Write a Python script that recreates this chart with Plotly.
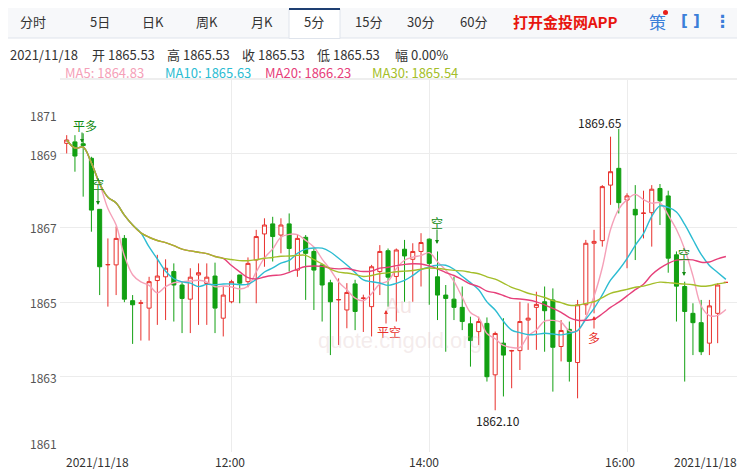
import plotly.graph_objects as go
import pandas as pd

W, H = 745, 472
OFF = 8  # page body margin
opens = [1869.26,1869.30,1869.25,1868.86,1867.49,1866.00,1866.00,1866.71,1865.04,1864.97,
         1864.84,1865.58,1865.68,1865.82,1865.46,1865.08,1865.73,1865.50,1865.70,1864.57,
         1865.01,1865.73,1865.55,1866.13,1866.83,1867.10,1866.80,1867.10,1865.86,1866.74,
         1866.36,1866.00,1865.52,1865.06,1864.79,1865.49,1865.10,1864.88,1865.82,1866.38,
         1865.69,1866.42,1866.15,1866.36,1866.69,1865.68,1865.19,1865.08,1864.86,1864.42,
         1864.21,1864.43,1863.05,1863.90,1863.69,1863.70,1864.52,1864.86,1865.01,1865.06,
         1863.81,1864.27,1863.38,1864.93,1866.58,1866.65,1868.14,1868.59,1867.74,1867.49,
         1867.38,1867.40,1868.05,1867.85,1866.27,1865.42,1864.70,1864.45,1863.90,1864.70,1865.53]
highs = [1869.48,1869.48,1869.53,1868.90,1867.49,1866.71,1867.03,1866.80,1865.19,1865.06,
         1865.68,1866.27,1866.15,1866.04,1865.55,1865.91,1866.04,1866.04,1866.06,1865.42,
         1865.60,1865.73,1866.20,1866.94,1867.25,1867.29,1867.25,1867.38,1866.80,1866.80,
         1866.44,1866.00,1865.60,1865.64,1865.51,1865.60,1865.20,1866.00,1866.53,1866.44,
         1866.44,1866.67,1866.58,1866.85,1866.71,1866.36,1865.46,1865.68,1865.42,1864.61,
         1864.61,1864.59,1864.21,1864.57,1863.72,1865.01,1864.97,1865.28,1865.42,1865.37,
         1864.52,1864.48,1865.06,1866.67,1866.94,1868.14,1869.44,1869.65,1867.92,1868.14,
         1867.99,1868.14,1868.17,1867.99,1866.36,1865.55,1864.97,1865.06,1865.06,1865.51,1865.53]
lows = [1868.99,1868.50,1867.83,1866.89,1865.19,1864.88,1865.19,1865.00,1863.88,1863.97,
        1863.97,1864.39,1864.52,1864.48,1864.17,1864.17,1864.39,1864.39,1864.17,1864.08,
        1864.97,1864.97,1865.40,1864.97,1865.95,1866.09,1866.31,1865.82,1865.68,1865.06,
        1864.79,1864.48,1863.58,1863.85,1864.30,1864.25,1864.20,1864.08,1865.19,1864.88,
        1864.48,1865.01,1865.01,1865.42,1864.93,1864.52,1863.67,1864.52,1864.25,1863.27,
        1863.85,1862.87,1862.10,1862.47,1862.69,1863.18,1863.72,1863.72,1863.67,1862.60,
        1863.41,1862.87,1862.42,1864.66,1864.70,1866.49,1867.61,1867.38,1865.91,1866.13,
        1866.71,1866.49,1867.07,1865.79,1864.48,1862.87,1863.58,1863.58,1863.58,1863.90,1865.53]
closes = [1869.35,1868.92,1869.20,1867.47,1865.95,1866.01,1866.71,1865.08,1864.93,1864.98,
          1865.55,1865.70,1865.91,1865.46,1865.10,1865.67,1865.79,1865.67,1864.84,1865.19,
          1865.55,1865.51,1866.04,1866.76,1867.07,1866.76,1867.07,1866.44,1866.71,1866.31,
          1865.86,1865.46,1865.01,1865.07,1865.26,1864.75,1865.11,1865.95,1866.36,1865.67,
          1866.40,1866.24,1866.36,1866.60,1866.04,1865.19,1865.10,1864.86,1864.48,1863.97,
          1864.48,1863.00,1864.16,1863.58,1863.70,1864.48,1864.57,1864.94,1864.77,1863.79,
          1864.24,1863.41,1864.93,1866.58,1866.63,1868.10,1868.50,1867.67,1867.85,1867.34,
          1867.39,1868.03,1867.72,1866.18,1865.43,1864.75,1864.45,1863.67,1864.90,1865.46,1865.53]
idx = list(range(len(closes)))
ma_periods = [5, 10, 20, 30]
ma_colors = ["#f5a0b8", "#2cbcd2", "#e6407a", "#a4be2a"]
ma_labels = ["MA5: 1864.83", "MA10: 1865.63", "MA20: 1866.23", "MA30: 1865.54"]
ma_label_x = [63, 163, 263, 370]
info_texts = ["2021/11/18", "开 1865.53", "高 1865.53", "收 1865.53", "低 1865.53", "幅 0.00%"]
info_x = [8, 90, 165, 240, 315, 393]
tabs = ["分时", "5日", "日K", "周K", "月K", "5分", "15分", "30分", "60分"]
tab_x = [33, 100, 153, 207, 262, 314, 368, 420, 473]
ytick_vals = ["1871", "1869", "1867", "1865", "1863", "1861"]
ytick_py = [115, 154, 227, 302, 377, 443]
xtick_text = ["2021/11/18", "12:00", "14:00", "16:00", "2021/11/18"]
xtick_px = [97, 230, 424, 620, 705]

FW, FH = W - OFF, H - OFF
def px(x): return (x - OFF) / FW
def py(y): return 1 - (y - OFF) / FH

fig = go.Figure()
fig.add_trace(go.Candlestick(x=idx, open=opens, high=highs, low=lows, close=closes,
    increasing=dict(line=dict(color="#e8302c", width=1), fillcolor="white"),
    decreasing=dict(line=dict(color="#12a012", width=1), fillcolor="#12a012"),
    whiskerwidth=0, hoverinfo="skip", showlegend=False))
s = pd.Series(closes)
for p, c in zip(ma_periods, ma_colors):
    ma = s.rolling(p, min_periods=1).mean()
    fig.add_trace(go.Scatter(x=idx, y=ma, mode="lines", line=dict(color=c, width=1.4, shape="spline"),
                             hoverinfo="skip", showlegend=False))

ann = []
def T(x, y, t, size=12, color="#333", xa="center", bold=False, fam="Noto Sans CJK SC"):
    ann.append(dict(x=px(x), y=py(y), xref="paper", yref="paper", text=("<b>%s</b>" % t) if bold else t,
                    showarrow=False, xanchor=xa, yanchor="middle",
                    font=dict(size=size, color=color, family=fam)))

shapes = [dict(type="rect", xref="paper", yref="paper", x0=0, x1=1, y0=py(38), y1=1,
               fillcolor="#f7f8fa", line=dict(width=0), layer="below"),
          dict(type="line", xref="paper", yref="paper", x0=0, x1=1, y0=py(38), y1=py(38),
               line=dict(color="#dfe4ec", width=1)),
          dict(type="rect", xref="paper", yref="paper", x0=px(289), x1=px(340), y0=py(38.5), y1=py(9),
               fillcolor="white", line=dict(color="#dfe4ec", width=1)),
          dict(type="line", xref="paper", yref="paper", x0=px(289), x1=px(340), y0=py(9), y1=py(9),
               line=dict(color="#1e3f72", width=2)),
          dict(type="line", xref="paper", yref="paper", x0=px(60), x1=px(740), y0=py(79), y1=py(79),
               line=dict(color="#dddddd", width=1)),
          dict(type="circle", xref="paper", yref="paper", x0=px(663), x1=px(668), y0=py(15), y1=py(10),
               fillcolor="#e8201a", line=dict(width=0))]
for t, x in zip(tabs, tab_x):
    T(x, 21, t, 13, "#333")
T(565, 21, "打开金投网APP", 15, "#e8150e", bold=True)
T(657, 21, "策", 17, "#3b7fd9")
T(690, 21, "[ ]", 15, "#3b7fd9", bold=True, fam="DejaVu Sans")
T(722, 21, "⋮", 17, "#3b7fd9", bold=True, fam="DejaVu Sans")
for x, t in zip(info_x, info_texts):
    T(x, 55, t, 13, "#333", "left")
for x, t, c in zip(ma_label_x, ma_labels, ma_colors):
    T(x, 72, t, 13, c, "left")
for t, y in zip(ytick_vals, ytick_py):
    T(59, y, t, 12, "#555", "right")
for t, x in zip(xtick_text, xtick_px):
    T(x, 461, t, 12, "#333")
T(600, 122, "1869.65", 12, "#222")
T(498, 420, "1862.10", 12, "#222")
T(85, 126, "平多", 12, "#128a12")
T(98, 183, "空", 12, "#128a12")
T(437, 222, "空", 12, "#128a12")
T(684, 253, "空", 12, "#128a12")
T(389, 331, "平空", 12, "#e8302c")
T(594, 337, "多", 12, "#e8302c")
T(400, 340, "quote.cngold.org", 22, "rgba(225,200,200,0.35)", fam="Arial")
T(398, 305, "Au", 22, "rgba(225,180,180,0.35)", fam="Arial")
for (x, y0, y1, c) in [(82, 131, 143, "#128a12"), (98, 188, 205, "#128a12"), (437, 228, 244, "#128a12"),
                       (684, 259, 276, "#128a12"), (386, 325, 310, "#e8302c"), (594, 330, 316, "#e8302c")]:
    ann.append(dict(x=px(x), y=py(y1), ax=0, ay=y0 - y1, xref="paper", yref="paper",
                    text="", showarrow=True, arrowhead=2, arrowsize=0.8, arrowwidth=1, arrowcolor=c))
ann.append(dict(x=px(22), y=py(467), xref="paper", yref="paper", xanchor="left", yanchor="top", showarrow=False,
                text="MACD&nbsp;&nbsp;<span style='color:#2cbcd2'>DIF: 0.14</span>&nbsp;&nbsp;&nbsp;&nbsp;&nbsp;&nbsp;&nbsp;&nbsp;"
                     "<span style='color:#c03cc0'>DEA: 0.08</span>&nbsp;&nbsp;&nbsp;&nbsp;&nbsp;&nbsp;&nbsp;&nbsp;"
                     "<span style='color:#d02020'>MACD: -0.45</span>",
                font=dict(size=12, color="#555", family="Noto Sans CJK SC")))

xmin = -6.7 / 8.24
xmax = xmin + 680 / 8.24
fig.update_layout(width=FW, height=FH, margin=dict(l=0, r=0, t=0, b=0), paper_bgcolor="white",
                  plot_bgcolor="white", annotations=ann, shapes=shapes,
                  xaxis=dict(domain=[px(60), px(740)], range=[xmin, xmax], showticklabels=False,
                             tickvals=[20, 44, 68], showgrid=True, gridcolor="#ececec", zeroline=False,
                             rangeslider=dict(visible=False), showline=False),
                  yaxis=dict(domain=[py(452), py(80)], range=[1860.98, 1870.96], showticklabels=False,
                             tickvals=[1861, 1863, 1865, 1867, 1869], showgrid=True, gridcolor="#ececec",
                             zeroline=False))
fig.write_html("out.html")
